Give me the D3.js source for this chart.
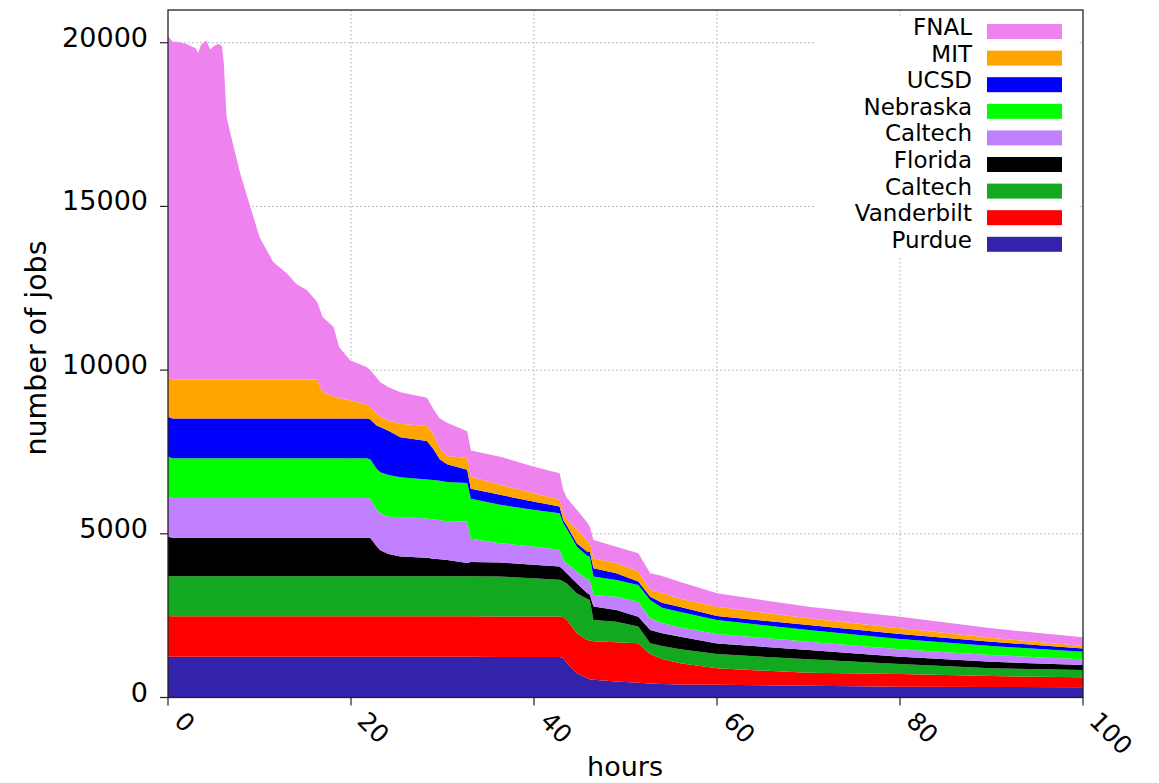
<!DOCTYPE html>
<html>
<head>
    <style>
        body { margin: 0; background: #fff; }
        svg { display: block; font-family: "DejaVu Sans", sans-serif; }
    </style>
</head>
<body>
    <svg width="1159" height="783"></svg>

    <script src="https://d3js.org/d3.v7.min.js"></script>
    <script>
        // hours since start
        const hours = [0, 0.5, 1, 1.5, 2, 2.5, 3, 3.3, 3.6, 4.2,
                       4.6, 5, 5.5, 5.9, 6.1, 6.4, 7, 7.9, 9, 10,
                       11.5, 13, 14, 15.2, 16.3, 16.9, 18.1, 18.7, 19.9, 21.7,
                       22.1, 22.8, 23.2, 24.1, 25.4, 28.3, 29.0, 29.7, 30.5, 32.7,
                       33.1, 36.3, 39.9, 42.8, 43.2, 43.6, 44.7, 45.8, 46.1, 46.5,
                       49, 51.4, 52.7, 54, 56, 60, 70, 80, 90, 100];

        // jobs per site (stack order bottom to top)
        const purdue = [1250, 1245, 1245, 1245, 1245, 1245, 1245, 1245, 1245, 1245,
                        1245, 1245, 1245, 1245, 1245, 1245, 1245, 1245, 1245, 1245,
                        1245, 1245, 1245, 1245, 1245, 1245, 1245, 1245, 1245, 1245,
                        1245, 1245, 1245, 1245, 1245, 1245, 1245, 1245, 1245, 1245,
                        1245, 1240, 1240, 1240, 1200, 1045, 740, 590, 560, 540,
                        485, 450, 430, 415, 395, 390, 360, 330, 320, 310];
        const vanderbilt = [1240, 1235, 1235, 1235, 1235, 1235, 1235, 1235, 1235, 1235,
                            1235, 1235, 1235, 1235, 1235, 1235, 1235, 1235, 1235, 1235,
                            1235, 1235, 1235, 1235, 1235, 1235, 1235, 1235, 1235, 1235,
                            1235, 1235, 1235, 1235, 1235, 1235, 1235, 1235, 1235, 1235,
                            1235, 1235, 1235, 1235, 1250, 1320, 1220, 1170, 1180, 1180,
                            1205, 1205, 900, 760, 650, 500, 395, 390, 335, 305];
        const caltechGreen = [1222, 1220, 1220, 1220, 1220, 1220, 1220, 1220, 1220, 1220,
                              1220, 1220, 1220, 1220, 1220, 1220, 1220, 1220, 1220, 1220,
                              1220, 1220, 1220, 1220, 1220, 1220, 1220, 1220, 1220, 1220,
                              1220, 1220, 1220, 1220, 1220, 1220, 1220, 1220, 1220, 1220,
                              1220, 1220, 1170, 1120, 1090, 1120, 1220, 1260, 1240, 650,
                              625, 510, 325, 400, 430, 437, 410, 305, 235, 223];
        const florida = [1200, 1180, 1180, 1180, 1180, 1180, 1180, 1180, 1180, 1180,
                         1180, 1180, 1180, 1180, 1180, 1180, 1180, 1180, 1180, 1180,
                         1180, 1180, 1180, 1180, 1180, 1180, 1180, 1180, 1180, 1180,
                         1180, 920, 800, 680, 610, 570, 540, 520, 500, 410,
                         440, 430, 410, 405, 360, 306, 305, 170, 155, 406,
                         357, 305, 407, 390, 380, 326, 284, 223, 202, 153];
        const caltechPurple = [1220, 1215, 1215, 1215, 1215, 1215, 1215, 1215, 1215, 1215,
                               1215, 1215, 1215, 1215, 1215, 1215, 1215, 1215, 1215, 1215,
                               1215, 1215, 1215, 1215, 1215, 1215, 1215, 1215, 1215, 1215,
                               1200, 1120, 1130, 1140, 1200, 1200, 1200, 1200, 1170, 1270,
                               710, 590, 560, 510, 300, 306, 355, 420, 458, 358,
                               407, 458, 357, 310, 280, 284, 254, 226, 204, 174];
        const nebraska = [1222, 1215, 1215, 1215, 1215, 1215, 1215, 1215, 1215, 1215,
                          1215, 1215, 1215, 1215, 1215, 1215, 1215, 1215, 1215, 1215,
                          1215, 1215, 1215, 1215, 1215, 1215, 1215, 1215, 1215, 1215,
                          1200, 1250, 1250, 1280, 1220, 1190, 1200, 1200, 1210, 1170,
                          1220, 1170, 1120, 1120, 1120, 1050, 764, 720, 712, 559,
                          510, 510, 559, 470, 480, 428, 357, 315, 275, 232];
        const ucsd = [1222, 1210, 1210, 1210, 1210, 1210, 1210, 1210, 1210, 1210,
                      1210, 1210, 1210, 1210, 1210, 1210, 1210, 1210, 1210, 1210,
                      1210, 1210, 1210, 1210, 1210, 1210, 1210, 1210, 1210, 1210,
                      1220, 1320, 1380, 1350, 1221, 1173, 950, 654, 541, 407,
                      306, 305, 254, 203, 101, 100, 102, 130, 154, 256,
                      205, 103, 101, 150, 152, 122, 152, 152, 132, 103];
        const mit = [1222, 1190, 1190, 1190, 1190, 1190, 1190, 1190, 1190, 1190,
                     1190, 1190, 1190, 1190, 1190, 1190, 1190, 1190, 1190, 1190,
                     1190, 1190, 1190, 1190, 1190, 814, 673, 620, 560, 433,
                     380, 360, 320, 305, 409, 460, 458, 346, 254, 357,
                     357, 305, 256, 204, 204, 200, 407, 330, 254, 305,
                     305, 304, 204, 300, 250, 284, 205, 175, 122, 71];
        const fnal = [10400, 10320, 10320, 10280, 10260, 10180, 10130, 9980, 10230, 10360,
                      10080, 10180, 10260, 10180, 9660, 8020, 7310, 6290, 5270, 4355,
                      3590, 3240, 2930, 2730, 2370, 2290, 2126, 1565, 1221, 1140,
                      1120, 1100, 1046, 1024, 966, 865, 763, 900, 1020, 815,
                      814, 860, 813, 816, 713, 650, 611, 560, 509, 560,
                      508, 561, 511, 520, 510, 410, 354, 354, 287, 266];

        const sites = [
            { key: "purdue", label: "Purdue", values: purdue, color: "#3322aa" },
            { key: "vanderbilt", label: "Vanderbilt", values: vanderbilt, color: "#ff0000" },
            { key: "caltechGreen", label: "Caltech", values: caltechGreen, color: "#12a820" },
            { key: "florida", label: "Florida", values: florida, color: "#000000" },
            { key: "caltechPurple", label: "Caltech", values: caltechPurple, color: "#c080ff" },
            { key: "nebraska", label: "Nebraska", values: nebraska, color: "#00ff00" },
            { key: "ucsd", label: "UCSD", values: ucsd, color: "#0000ff" },
            { key: "mit", label: "MIT", values: mit, color: "#ffa500" },
            { key: "fnal", label: "FNAL", values: fnal, color: "#ee82ee" }
        ];

        const xTicks = [0, 20, 40, 60, 80, 100];
        const yTicks = [0, 5000, 10000, 15000, 20000];

        const svg = d3.select("svg");
        const plotLeft = 168, plotRight = 1083, plotTop = 10, plotBottom = 697.5;

        const x = d3.scaleLinear().domain([0, 100]).range([plotLeft, plotRight]);
        const y = d3.scaleLinear().domain([0, 21000]).range([plotBottom, plotTop]);

        // rows for the stack
        const rows = hours.map((h, i) => {
            const r = { hours: h };
            sites.forEach(s => r[s.key] = s.values[i]);
            return r;
        });
        const stacked = d3.stack().keys(sites.map(s => s.key))(rows);

        // grid (dotted)
        const grid = svg.append("g")
            .attr("stroke", "#a8a8a8")
            .attr("stroke-width", 1)
            .attr("stroke-dasharray", "1.5,2.5");
        grid.selectAll(".gx")
            .data(xTicks.filter(d => d > 0 && d < 100))
            .join("line")
            .attr("x1", d => x(d)).attr("x2", d => x(d))
            .attr("y1", plotTop).attr("y2", plotBottom);
        grid.selectAll(".gy")
            .data(yTicks.filter(d => d > 0))
            .join("line")
            .attr("x1", plotLeft).attr("x2", plotRight)
            .attr("y1", d => y(d)).attr("y2", d => y(d));

        // stacked areas
        const area = d3.area()
            .x(d => x(d.data.hours))
            .y0(d => y(d[0]))
            .y1(d => y(d[1]));

        svg.append("g")
            .selectAll("path")
            .data(stacked)
            .join("path")
            .attr("fill", (d, i) => sites[i].color)
            .attr("d", area);

        // border
        svg.append("rect")
            .attr("x", plotLeft).attr("y", plotTop)
            .attr("width", plotRight - plotLeft).attr("height", plotBottom - plotTop)
            .attr("fill", "none")
            .attr("stroke", "#222")
            .attr("stroke-width", 1.3);

        // ticks
        const axisColor = "#222";
        svg.append("g").selectAll("line")
            .data(yTicks)
            .join("line")
            .attr("x1", plotLeft - 8).attr("x2", plotLeft)
            .attr("y1", d => y(d)).attr("y2", d => y(d))
            .attr("stroke", axisColor).attr("stroke-width", 1.2);
        svg.append("g").selectAll("line")
            .data(xTicks)
            .join("line")
            .attr("x1", d => x(d)).attr("x2", d => x(d))
            .attr("y1", plotBottom).attr("y2", plotBottom + 8)
            .attr("stroke", axisColor).attr("stroke-width", 1.2);

        // tick labels
        svg.append("g").selectAll("text")
            .data(yTicks)
            .join("text")
            .attr("x", 148)
            .attr("y", d => y(d) + 4)
            .attr("text-anchor", "end")
            .attr("font-size", 27)
            .attr("fill", "#000")
            .text(d => d);

        svg.append("g").selectAll("text")
            .data(xTicks)
            .join("text")
            .attr("transform", d => `translate(${x(d) + 5},${plotBottom + 25}) rotate(45)`)
            .attr("font-size", 25)
            .attr("fill", "#000")
            .text(d => d);

        // axis titles
        svg.append("text")
            .attr("x", 625).attr("y", 776)
            .attr("text-anchor", "middle")
            .attr("font-size", 27)
            .text("hours");

        svg.append("text")
            .attr("transform", "translate(46,348) rotate(-90)")
            .attr("text-anchor", "middle")
            .attr("font-size", 28.5)
            .text("number of jobs");

        // legend, top entry first
        const legendSites = sites.slice().reverse();
        const legend = svg.append("g");
        legend.append("rect")
            .attr("x", 815).attr("y", 16)
            .attr("width", 262).attr("height", 240)
            .attr("fill", "#fff");

        const item = legend.selectAll("g")
            .data(legendSites)
            .join("g")
            .attr("transform", (d, i) => `translate(0,${31.5 + i * 26.6})`);
        item.append("text")
            .attr("x", 972).attr("y", 3.5)
            .attr("text-anchor", "end")
            .attr("font-size", 23)
            .text(d => d.label);
        item.append("rect")
            .attr("x", 987).attr("y", -7.5)
            .attr("width", 75).attr("height", 15)
            .attr("fill", d => d.color);
    </script>
</body>
</html>
